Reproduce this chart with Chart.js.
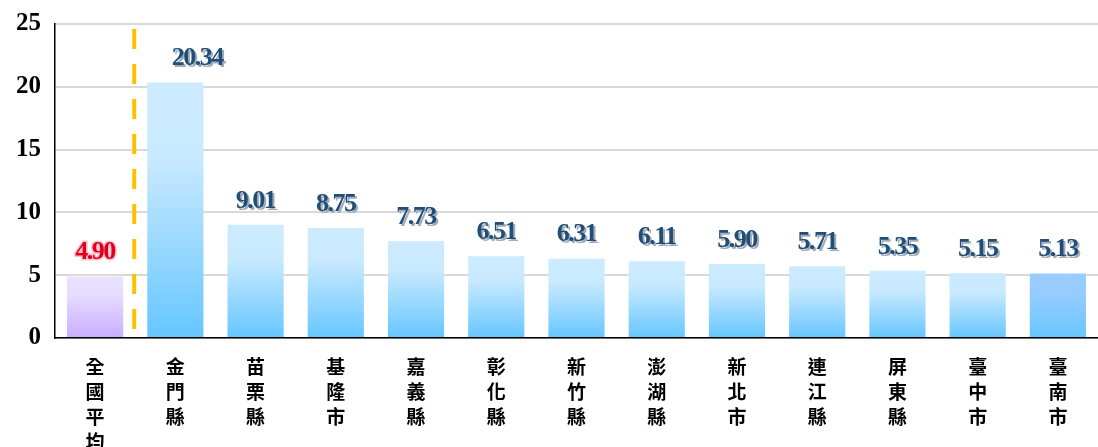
<!DOCTYPE html>
<html>
<head>
<meta charset="utf-8">
<script src="https://cdn.jsdelivr.net/npm/chart.js@4/dist/chart.umd.min.js"></script>
<style>
  html, body { margin: 0; padding: 0; background: #fff; }
  #wrap { width: 1098px; height: 447px; }
</style>
</head>
<body>
<div id="wrap"><canvas id="rateChart"></canvas></div>
<script>
const categories = ['全國平均', '金門縣', '苗栗縣', '基隆市', '嘉義縣', '彰化縣', '新竹縣', '澎湖縣', '新北市', '連江縣', '屏東縣', '臺中市', '臺南市'];
const values = [4.90, 20.34, 9.01, 8.75, 7.73, 6.51, 6.31, 6.11, 5.90, 5.71, 5.35, 5.15, 5.13];
const yTicks = [0, 5, 10, 15, 20, 25];

// gradient runs over each bar's own height
function barFill(ctx) {
    const chart = ctx.chart;
    const yScale = chart.scales.y;
    if (!chart.chartArea || !yScale) return '#9fd8ff';
    const i = ctx.dataIndex;
    const top = yScale.getPixelForValue(values[i]);
    const bottom = yScale.getPixelForValue(0);
    const g = chart.ctx.createLinearGradient(0, top, 0, bottom);
    if (i === 0) {
        g.addColorStop(0, '#ebe2ff');
        g.addColorStop(0.3, '#e6dcff');
        g.addColorStop(1, '#c9adff');
    } else if (i === categories.length - 1) {
        g.addColorStop(0, '#99ccff');
        g.addColorStop(0.3, '#97ccff');
        g.addColorStop(1, '#66c6ff');
    } else {
        g.addColorStop(0, '#cdebff');
        g.addColorStop(0.3, '#c8e9ff');
        g.addColorStop(1, '#66c6ff');
    }
    return g;
}

// value labels + dashed divider after the national average
const extras = {
    id: 'extras',
    afterDatasetsDraw(chart) {
        const c = chart.ctx;
        const meta = chart.getDatasetMeta(0);
        const area = chart.chartArea;

        const x0 = meta.data[0].x, x1 = meta.data[1].x;
        const xd = (x0 + x1) / 2 - 1;
        c.save();
        c.strokeStyle = '#ffc000';
        c.lineWidth = 4;
        c.setLineDash([20, 15]);
        c.beginPath();
        c.moveTo(xd, area.top + 5);
        c.lineTo(xd, area.bottom);
        c.stroke();
        c.restore();

        c.save();
        c.font = 'bold 26px "Liberation Serif", "Times New Roman", serif';
        c.letterSpacing = '-1.5px';
        c.textAlign = 'center';
        c.textBaseline = 'middle';
        meta.data.forEach((bar, i) => {
            const txt = values[i].toFixed(2);
            // the 金門縣 label sits a little to the right in the original
            const x = bar.x + (i === 1 ? 22 : 0);
            const y = bar.y - 24;
            if (i === 0) {
                c.lineWidth = 3;
                c.strokeStyle = '#ffc0cc';
                c.strokeText(txt, x, y);
                c.fillStyle = '#e0001b';
                c.fillText(txt, x, y);
            } else {
                c.fillStyle = '#a3acb6';
                c.fillText(txt, x + 2, y + 2);
                c.fillStyle = '#1f4e79';
                c.fillText(txt, x, y);
            }
        });
        c.restore();
    }
};

const ctx = document.getElementById('rateChart').getContext('2d');
const myChart = new Chart(ctx, {
    type: 'bar',
    data: {
        labels: categories.map(s => s.split('')),
        datasets: [{
            data: values,
            backgroundColor: barFill,
            borderWidth: 0,
            barPercentage: 0.7,
            categoryPercentage: 1
        }]
    },
    options: {
        responsive: true,
        maintainAspectRatio: false,
        animation: false,
        layout: { padding: { top: 0, right: 0, left: 2, bottom: 0 } },
        plugins: {
            legend: { display: false },
            tooltip: { enabled: false }
        },
        scales: {
            x: {
                afterFit: axis => { axis.height = 109; },
                grid: { display: false, drawTicks: false },
                border: { display: true, color: '#000', width: 1.5 },
                ticks: {
                    maxRotation: 0,
                    minRotation: 0,
                    autoSkip: false,
                    padding: 16,
                    color: '#000',
                    font: { family: '"Noto Sans CJK TC", "Noto Sans CJK SC", sans-serif', size: 19, weight: 'bold', lineHeight: 1.32 }
                }
            },
            y: {
                min: 0,
                max: 25,
                afterBuildTicks: axis => { axis.ticks = yTicks.map(v => ({ value: v })); },
                grid: { color: '#d9d9d9', lineWidth: 2, drawTicks: false },
                border: { display: true, color: '#000', width: 1.5, dash: [] },
                ticks: {
                    padding: 14,
                    color: '#000',
                    font: { family: '"Liberation Serif", "Times New Roman", serif', size: 25, weight: 'bold', lineHeight: 0.8 }
                }
            }
        }
    },
    plugins: [extras]
});
</script>
</body>
</html>
